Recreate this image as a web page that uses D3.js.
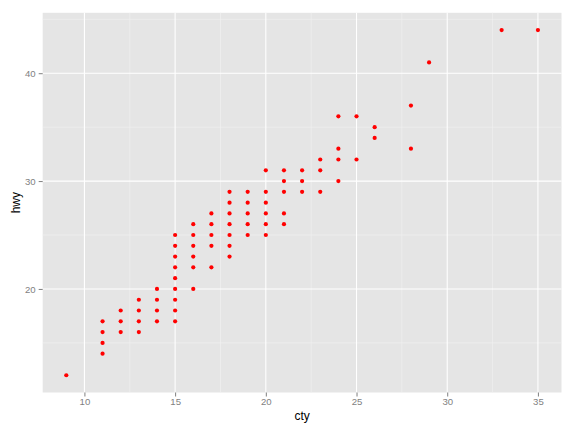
<!DOCTYPE html>
<html><head><meta charset="utf-8">
<script src="https://cdn.jsdelivr.net/npm/d3@7"></script>
<style>body{margin:0;background:#fff}svg{display:block}text{font-family:"Liberation Sans",Arial,sans-serif}</style>
</head><body><svg id="c" width="576" height="432"></svg>
<script>
const cty = [9,11,11,11,11,12,12,12,13,13,13,13,14,14,14,14,
  15,15,15,15,15,15,15,15,15,16,16,16,16,16,16,17,17,17,17,17,
  18,18,18,18,18,18,18,19,19,19,19,19,20,20,20,20,20,20,
  21,21,21,21,21,22,22,22,23,23,23,24,24,24,24,25,25,26,26,28,28,29,33,35];
const hwy = [12,17,16,15,14,18,17,16,19,18,17,16,20,19,18,17,
  25,24,23,22,21,20,19,18,17,26,25,24,23,22,20,27,26,25,24,22,
  29,28,27,26,25,24,23,29,28,27,26,25,31,29,28,27,26,25,
  31,30,29,27,26,31,30,29,32,31,29,36,33,32,30,36,32,35,34,37,33,41,44,44];
const xTicks = [10,15,20,25,30,35];
const yTicks = [20,30,40];
const xMinor = [12.5,17.5,22.5,27.5,32.5];
const yMinor = [15,25,35,45];

const svg = d3.select("#c");
const L=42.7, R=561.5, T=12.8, B=392.5;
const x = d3.scaleLinear().domain([7.7,36.3]).range([L,R]);
const y = d3.scaleLinear().domain([10.4,45.6]).range([B,T]);

svg.append("rect").attr("x",L).attr("y",T).attr("width",R-L).attr("height",B-T).attr("fill","#E5E5E5");
const g = svg.append("g");
g.selectAll(".xm").data(xMinor).join("line").attr("x1",d=>x(d)).attr("x2",d=>x(d)).attr("y1",T).attr("y2",B).attr("stroke","#F2F2F2").attr("stroke-width",0.6);
g.selectAll(".ym").data(yMinor).join("line").attr("y1",d=>y(d)).attr("y2",d=>y(d)).attr("x1",L).attr("x2",R).attr("stroke","#F2F2F2").attr("stroke-width",0.6);
g.selectAll(".xM").data(xTicks).join("line").attr("x1",d=>x(d)).attr("x2",d=>x(d)).attr("y1",T).attr("y2",B).attr("stroke","#fff").attr("stroke-width",1.1);
g.selectAll(".yM").data(yTicks).join("line").attr("y1",d=>y(d)).attr("y2",d=>y(d)).attr("x1",L).attr("x2",R).attr("stroke","#fff").attr("stroke-width",1.1);

const xa = svg.append("g").attr("transform",`translate(0,${B})`)
  .call(d3.axisBottom(x).tickValues(xTicks).tickSize(4).tickPadding(2));
const ya = svg.append("g").attr("transform",`translate(${L},0)`)
  .call(d3.axisLeft(y).tickValues(yTicks).tickSize(4).tickPadding(3));
[xa,ya].forEach(a=>{
  a.select(".domain").remove();
  a.selectAll("line").attr("stroke","#7F7F7F");
  a.selectAll("text").attr("fill","#7F7F7F").attr("font-size","9.6px").style("font-family","Liberation Sans, Arial, sans-serif");
});

svg.append("g").selectAll("circle").data(cty.map((c,i)=>[c,hwy[i]])).join("circle")
  .attr("cx",d=>x(d[0])).attr("cy",d=>y(d[1])).attr("r",2.1).attr("fill","#FF0000");

svg.append("text").attr("x",(L+R)/2).attr("y",420).attr("text-anchor","middle").attr("font-size","12px").text("cty");
svg.append("text").attr("transform",`translate(20,${(T+B)/2}) rotate(-90)`).attr("text-anchor","middle").attr("font-size","12px").text("hwy");
</script></body></html>
